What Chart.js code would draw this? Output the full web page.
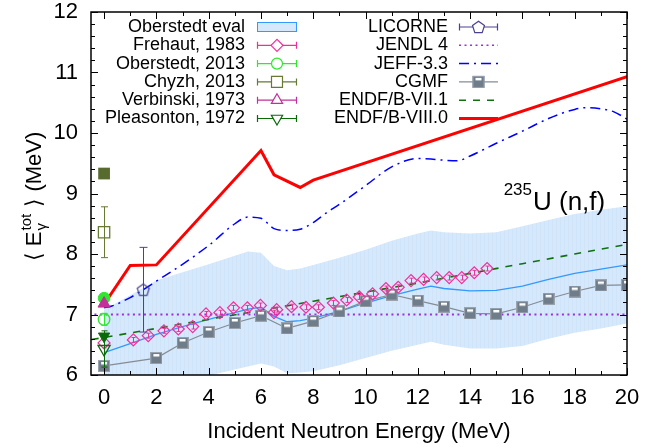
<!DOCTYPE html>
<html>
<head>
<meta charset="utf-8">
<script src="https://cdn.jsdelivr.net/npm/chart.js@4/dist/chart.umd.min.js"></script>
<style>
html,body{margin:0;padding:0;background:#ffffff;}
canvas{display:block;}
</style>
</head>
<body>
<canvas id="chart" width="667" height="447" style="width:667px;height:447px"></canvas>
<script>
// ---- tick labels ----
const xTicks = [0, 2, 4, 6, 8, 10, 12, 14, 16, 18, 20];
const yTicks = [6, 7, 8, 9, 10, 11, 12];

// ---- Oberstedt evaluation: central value and uncertainty band (MeV) ----
const evalE    = [0, 1, 2, 3, 4, 5, 5.5, 6, 6.5, 7, 7.5, 8, 9, 10, 11, 12, 12.5, 13, 14, 15, 16, 17, 18, 19, 20];
const evalMean = [6.37, 6.52, 6.67, 6.80, 6.92, 7.03, 7.09, 7.12, 6.97, 6.88, 6.90, 6.94, 7.05, 7.19, 7.31, 7.42, 7.47, 7.43, 7.39, 7.40, 7.47, 7.58, 7.68, 7.75, 7.82];
const evalHigh = [7.08, 7.32, 7.56, 7.70, 7.83, 7.97, 8.04, 8.02, 7.80, 7.73, 7.76, 7.82, 7.94, 8.07, 8.22, 8.34, 8.39, 8.36, 8.34, 8.36, 8.46, 8.56, 8.66, 8.73, 8.79];
const evalLow  = [5.66, 5.72, 5.78, 5.88, 5.99, 6.09, 6.14, 6.19, 6.14, 6.03, 6.04, 6.06, 6.16, 6.28, 6.40, 6.50, 6.55, 6.50, 6.44, 6.44, 6.48, 6.60, 6.70, 6.77, 6.85];

// ---- Frehaut, 1983 ----
const frehautE   = [0, 1.12, 1.69, 2.29, 2.84, 3.39, 3.90, 4.43, 4.95, 5.48, 5.98, 6.50, 6.60, 7.17, 7.72, 8.20, 8.77, 9.28, 9.76, 10.27, 10.78, 11.25, 11.74, 12.22, 12.72, 13.20, 13.68, 14.16, 14.65];
const frehautG   = [6.53, 6.58, 6.65, 6.73, 6.76, 6.80, 7.01, 7.03, 7.11, 7.11, 7.15, 7.03, 7.08, 7.13, 7.12, 7.12, 7.19, 7.24, 7.29, 7.34, 7.43, 7.45, 7.56, 7.58, 7.61, 7.61, 7.61, 7.69, 7.76];
const frehautErr = [0.08, 0.04, 0.04, 0.04, 0.04, 0.04, 0.04, 0.04, 0.04, 0.04, 0.04, 0.04, 0.04, 0.04, 0.04, 0.04, 0.04, 0.04, 0.04, 0.04, 0.04, 0.04, 0.04, 0.04, 0.04, 0.04, 0.04, 0.04, 0.04];

// ---- thermal / single-energy measurements ----
const oberstedt2013E = [0];
const oberstedt2013G = [6.92];
const oberstedt2013Err = [0.1];
const oberstedtAltE = [0];
const oberstedtAltG = [7.27];

const chyzhE = [0];
const chyzhG = [8.36];
const chyzhErr = [0.42];
const chyzhAltE = [0];
const chyzhAltG = [9.33];

const verbinskiE = [0];
const verbinskiG = [7.18];
const verbinskiErr = [0.04];

const pleasontonE = [0];
const pleasontonG = [6.43];
const pleasontonErr = [0.3];
const pleasontonAltE = [0];
const pleasontonAltG = [6.64];

const licorneE = [1.5];
const licorneG = [7.41];
const licorneErr = [0.70];

// ---- evaluations and model ----
const jendlE = [-1, 20];
const jendlG = [7.0, 7.0];

const jeffE = [0, 0.3, 1, 1.5, 2, 3, 4, 5, 5.5, 6, 6.5, 7, 7.5, 8, 8.5, 9, 10, 11, 12, 12.5, 13, 13.5, 14, 15, 16, 17, 18, 18.5, 19, 19.5, 20];
const jeffG = [7.11, 7.14, 7.28, 7.41, 7.55, 7.83, 8.14, 8.50, 8.61, 8.59, 8.42, 8.39, 8.41, 8.52, 8.68, 8.82, 9.13, 9.44, 9.58, 9.57, 9.55, 9.54, 9.62, 9.83, 10.03, 10.24, 10.39, 10.42, 10.40, 10.35, 10.23];

const cgmfE = [0, 2, 3, 4, 5, 6, 7, 8, 9, 10, 11, 12, 13, 14, 15, 16, 17, 18, 19, 20];
const cgmfG = [6.15, 6.28, 6.53, 6.71, 6.86, 6.98, 6.77, 6.89, 7.05, 7.22, 7.33, 7.23, 7.13, 7.02, 7.01, 7.12, 7.26, 7.38, 7.48, 7.49];

const endf71E = [-1, 0, 2, 4, 6, 8, 10, 12, 14, 16, 18, 20];
const endf71G = [6.55, 6.62, 6.77, 6.92, 7.07, 7.22, 7.37, 7.52, 7.68, 7.84, 8.00, 8.16];

const endf80E = [0, 1, 2, 6, 6.5, 7.5, 8, 20];
const endf80G = [7.17, 7.81, 7.82, 9.71, 9.31, 9.10, 9.22, 10.93];

// ---- legend labels ----
const legendLeft  = ['Oberstedt eval', 'Frehaut, 1983', 'Oberstedt, 2013', 'Chyzh, 2013', 'Verbinski, 1973', 'Pleasonton, 1972'];
const legendRight = ['LICORNE', 'JENDL 4', 'JEFF-3.3', 'CGMF', 'ENDF/B-VII.1', 'ENDF/B-VIII.0'];

// ---- colours ----
const C = {
  band: '#d6e9fc', bandStripe: '#cfe3f9', bandEdge: '#3399ff', evalLine: '#3399ff',
  frehaut: '#f0309a', oberstedt: '#2ee82e', chyzh: '#667a33', chyzhFill: '#566b2d',
  verbinski: '#c4309a', pleasonton: '#0a6a0a', licorne: '#4a4290',
  jendl: '#9b30e0', jeff: '#0000ff', cgmf: '#6f7c89', cgmfLine: '#858c94',
  endf71: '#107010', endf80: '#ff0000'
};
const FONT = "'Liberation Sans', Arial, Helvetica, sans-serif";

const pts = (xs, ys) => xs.map((x, i) => ({ x: x, y: ys[i] }));

// faint vertical hatching used for the uncertainty band
function bandPattern() {
  const c = document.createElement('canvas');
  c.width = 4; c.height = 4;
  const g = c.getContext('2d');
  g.fillStyle = C.band; g.fillRect(0, 0, 4, 4);
  g.fillStyle = C.bandStripe; g.fillRect(0, 0, 1, 4);
  return g.createPattern(c, 'repeat');
}

// custom marker images
function pentagonPath(g, cx, cy, r) {
  g.beginPath();
  for (let k = 0; k < 5; k++) {
    const a = -Math.PI / 2 + k * 2 * Math.PI / 5;
    const px = cx + r * Math.cos(a), py = cy + r * Math.sin(a);
    if (k === 0) g.moveTo(px, py); else g.lineTo(px, py);
  }
  g.closePath();
}
function makePentagon() {
  const c = document.createElement('canvas');
  c.width = 16; c.height = 16;
  const g = c.getContext('2d');
  g.strokeStyle = C.licorne; g.lineWidth = 1.2;
  pentagonPath(g, 8, 8.5, 6.3);
  g.stroke();
  return c;
}
function cgmfSquare(g, cx, cy) {
  g.fillStyle = C.cgmf;
  g.fillRect(cx - 6, cy - 6, 12, 12);
  g.strokeStyle = '#9aa3ad'; g.lineWidth = 1;
  g.strokeRect(cx - 5.5, cy - 5.5, 11, 11);
  g.fillStyle = '#ffffff';
  g.fillRect(cx - 3, cy - 4, 6, 2.5);
}
function makeCgmf() {
  const c = document.createElement('canvas');
  c.width = 12; c.height = 12;
  cgmfSquare(c.getContext('2d'), 6, 6);
  return c;
}
const pentagonImg = makePentagon();
const cgmfImg = makeCgmf();

// error bars, drawn beneath each dataset's markers
const errorBars = {
  id: 'errorBars',
  beforeDatasetDraw(chart, args) {
    const ds = chart.data.datasets[args.index];
    if (!ds.yErr) return;
    const ctx = chart.ctx, xs = chart.scales.x, ys = chart.scales.y;
    const cap = ds.capHalf || 3;
    ctx.save();
    ctx.strokeStyle = ds.errColor || ds.borderColor;
    ctx.lineWidth = 1;
    ctx.beginPath();
    ds.data.forEach((p, i) => {
      const e = ds.yErr[i];
      if (!e) return;
      const px = Math.round(xs.getPixelForValue(p.x)) + 0.5;
      const y1 = ys.getPixelForValue(p.y - e), y2 = ys.getPixelForValue(p.y + e);
      ctx.moveTo(px, y1); ctx.lineTo(px, y2);
      ctx.moveTo(px - cap, y1); ctx.lineTo(px + cap, y1);
      ctx.moveTo(px - cap, y2); ctx.lineTo(px + cap, y2);
    });
    ctx.stroke();
    ctx.restore();
  }
};

// frame with inward ticks on all four sides
const frame = {
  id: 'frame',
  afterDatasetsDraw(chart) {
    const { ctx, chartArea: a, scales: { x, y } } = chart;
    ctx.save();
    ctx.strokeStyle = '#000';
    ctx.lineWidth = 1;
    ctx.beginPath();
    for (let v = 0; v <= 20; v += 1) {
      const px = Math.round(x.getPixelForValue(v)) + 0.5;
      const len = (v % 2 === 0) ? 7 : 4;
      ctx.moveTo(px, a.bottom); ctx.lineTo(px, a.bottom - len);
      ctx.moveTo(px, a.top); ctx.lineTo(px, a.top + len);
    }
    for (let k = 0; k <= 30; k++) {
      const py = Math.round(y.getPixelForValue(6 + k * 0.2)) + 0.5;
      const len = (k % 5 === 0) ? 7 : 4;
      ctx.moveTo(a.left, py); ctx.lineTo(a.left + len, py);
      ctx.moveTo(a.right, py); ctx.lineTo(a.right - len, py);
    }
    ctx.stroke();
    ctx.lineWidth = 1.5;
    ctx.strokeRect(a.left, a.top, a.right - a.left, a.bottom - a.top);
    ctx.restore();
  }
};

function shape(ctx, kind, x, y, r, stroke, fill, lw) {
  ctx.save();
  ctx.strokeStyle = stroke; ctx.lineWidth = lw || 1.2;
  ctx.beginPath();
  if (kind === 'diamond') {
    ctx.moveTo(x - r, y); ctx.lineTo(x, y - r); ctx.lineTo(x + r, y); ctx.lineTo(x, y + r); ctx.closePath();
  } else if (kind === 'circle') {
    ctx.arc(x, y, r, 0, Math.PI * 2);
  } else if (kind === 'square') {
    ctx.rect(x - r, y - r, 2 * r, 2 * r);
  } else if (kind === 'tri') {
    ctx.moveTo(x, y - r); ctx.lineTo(x + r * 0.866, y + r / 2); ctx.lineTo(x - r * 0.866, y + r / 2); ctx.closePath();
  } else if (kind === 'dtri') {
    ctx.moveTo(x, y + r); ctx.lineTo(x + r * 0.866, y - r / 2); ctx.lineTo(x - r * 0.866, y - r / 2); ctx.closePath();
  } else if (kind === 'pent') {
    pentagonPath(ctx, x, y + 0.5, r);
  }
  ctx.fillStyle = fill; ctx.fill();
  ctx.stroke();
  ctx.restore();
}

function errSample(ctx, x0, x1, y, color, kind, r) {
  ctx.save();
  ctx.strokeStyle = color; ctx.lineWidth = 1.2;
  ctx.beginPath();
  ctx.moveTo(x0, y); ctx.lineTo(x1, y);
  ctx.moveTo(x0 + 0.5, y - 3.5); ctx.lineTo(x0 + 0.5, y + 3.5);
  ctx.moveTo(x1 - 0.5, y - 3.5); ctx.lineTo(x1 - 0.5, y + 3.5);
  ctx.stroke();
  ctx.restore();
  shape(ctx, kind, (x0 + x1) / 2, y, r, color, '#ffffff');
}
function lineSample(ctx, x0, x1, y, color, width, dash) {
  ctx.save();
  ctx.strokeStyle = color; ctx.lineWidth = width;
  ctx.setLineDash(dash || []);
  ctx.beginPath(); ctx.moveTo(x0, y); ctx.lineTo(x1, y); ctx.stroke();
  ctx.restore();
}

// key, axis titles and reaction label
const texts = {
  id: 'texts',
  afterDraw(chart) {
    const { ctx, chartArea: a } = chart;
    ctx.save();
    ctx.fillStyle = '#000';
    ctx.font = '18px ' + FONT;
    ctx.textAlign = 'right';
    ctx.textBaseline = 'middle';
    const row0 = 27, step = 18.3;
    const lx0 = 257, lx1 = 297, rx0 = 459, rx1 = 498;
    legendLeft.forEach((t, i) => ctx.fillText(t, 245, row0 + i * step));
    legendRight.forEach((t, i) => ctx.fillText(t, 448, row0 + i * step));

    // left column samples
    const yy = row0;
    ctx.fillStyle = C.band; ctx.fillRect(lx0, yy - 5, lx1 - lx0, 10);
    ctx.strokeStyle = C.bandEdge; ctx.lineWidth = 1; ctx.strokeRect(lx0 + 0.5, yy - 4.5, lx1 - lx0 - 1, 9);
    errSample(ctx, lx0, lx1, row0 + step, C.frehaut, 'diamond', 6);
    errSample(ctx, lx0, lx1, row0 + 2 * step, C.oberstedt, 'circle', 5.5);
    errSample(ctx, lx0, lx1, row0 + 3 * step, C.chyzh, 'square', 5.5);
    errSample(ctx, lx0, lx1, row0 + 4 * step, C.verbinski, 'tri', 6.5);
    errSample(ctx, lx0, lx1, row0 + 5 * step, C.pleasonton, 'dtri', 6.5);

    // right column samples
    errSample(ctx, rx0, rx1, row0, C.licorne, 'pent', 6.3);
    lineSample(ctx, rx0, rx1, row0 + step, C.jendl, 1.6, [2, 3.5]);
    lineSample(ctx, rx0, rx1, row0 + 2 * step, C.jeff, 1.5, [10, 5, 2, 5]);
    lineSample(ctx, rx0, rx1, row0 + 3 * step, C.cgmfLine, 1.2);
    cgmfSquare(ctx, (rx0 + rx1) / 2, row0 + 3 * step);
    lineSample(ctx, rx0, rx1, row0 + 4 * step, C.endf71, 1.5, [7, 7]);
    lineSample(ctx, rx0, rx1, row0 + 5 * step, C.endf80, 3);

    // x-axis title
    ctx.fillStyle = '#000';
    ctx.textAlign = 'center';
    ctx.font = '22px ' + FONT;
    ctx.fillText('Incident Neutron Energy (MeV)', (a.left + a.right) / 2, 432);

    // y-axis title:  < E_gamma^tot > (MeV)
    ctx.save();
    ctx.translate(33, 197);
    ctx.rotate(-Math.PI / 2);
    const big = '22px ' + FONT, small = '15px ' + FONT;
    const p1 = '\u27E8 E', p3 = ' \u27E9 (MeV)';
    ctx.font = big; const w1 = ctx.measureText(p1).width, w3 = ctx.measureText(p3).width;
    ctx.font = small; const wsup = ctx.measureText('tot').width, wsub = ctx.measureText('\u03B3').width;
    const w2 = Math.max(wsup, wsub) + 1;
    let cx = -(w1 + w2 + w3) / 2;
    ctx.textAlign = 'left';
    ctx.textBaseline = 'alphabetic';
    ctx.font = big; ctx.fillText(p1, cx, 8); cx += w1 + 1;
    ctx.font = small; ctx.fillText('tot', cx, -2); ctx.fillText('\u03B3', cx, 13);
    cx += w2;
    ctx.font = big; ctx.fillText(p3, cx, 8);
    ctx.restore();

    // reaction label
    ctx.textAlign = 'right';
    ctx.textBaseline = 'alphabetic';
    ctx.font = '17px ' + FONT;
    ctx.fillText('235', 532, 195);
    ctx.textAlign = 'left';
    ctx.font = '26px ' + FONT;
    ctx.fillText('U (n,f)', 533, 210);
    ctx.restore();
  }
};

const noPts = { pointRadius: 0, pointHoverRadius: 0 };

const datasets = [
  // uncertainty band
  { label: 'Oberstedt eval high', data: pts(evalE, evalHigh), showLine: true, borderWidth: 0, borderColor: 'rgba(0,0,0,0)',
    backgroundColor: bandPattern(), fill: '+1', order: 100, ...noPts },
  { label: 'Oberstedt eval low', data: pts(evalE, evalLow), showLine: true, borderWidth: 0, borderColor: 'rgba(0,0,0,0)',
    fill: false, order: 99, ...noPts },
  { label: 'Oberstedt eval', data: pts(evalE, evalMean), showLine: true, borderColor: C.evalLine, borderWidth: 1.3,
    fill: false, order: 60, ...noPts },
  // evaluations
  { label: 'JENDL 4', data: pts(jendlE, jendlG), showLine: true, borderColor: C.jendl, borderWidth: 2,
    borderDash: [2, 3.5], fill: false, order: 55, ...noPts },
  { label: 'ENDF/B-VII.1', data: pts(endf71E, endf71G), showLine: true, borderColor: C.endf71, borderWidth: 1.6,
    borderDash: [7, 7], fill: false, order: 54, ...noPts },
  { label: 'JEFF-3.3', data: pts(jeffE, jeffG), showLine: true, borderColor: C.jeff, borderWidth: 1.5,
    borderDash: [10, 5, 2, 5], cubicInterpolationMode: 'monotone', fill: false, order: 53, ...noPts },
  { label: 'ENDF/B-VIII.0', data: pts(endf80E, endf80G), showLine: true, borderColor: C.endf80, borderWidth: 3,
    fill: false, order: 52, ...noPts },
  // CGMF model
  { label: 'CGMF', data: pts(cgmfE, cgmfG), showLine: true, borderColor: C.cgmfLine, borderWidth: 1.2,
    pointStyle: cgmfImg, pointRadius: 6, fill: false, order: 30 },
  // measurements
  { label: 'Frehaut, 1983', data: pts(frehautE, frehautG), yErr: frehautErr, capHalf: 2, showLine: false,
    borderColor: C.frehaut, backgroundColor: 'rgba(0,0,0,0)', pointStyle: 'rectRot', pointRadius: 6, pointBorderWidth: 1.2, order: 20 },
  { label: 'Chyzh, 2013', data: pts(chyzhE, chyzhG), yErr: chyzhErr, capHalf: 3.5, showLine: false,
    borderColor: C.chyzh, backgroundColor: 'rgba(0,0,0,0)', pointStyle: 'rect', pointRadius: 8, pointBorderWidth: 1.3, order: 20 },
  { label: 'Chyzh, 2013 (alt)', data: pts(chyzhAltE, chyzhAltG), showLine: false,
    borderColor: C.chyzhFill, backgroundColor: C.chyzhFill, pointStyle: 'rect', pointRadius: 8.3, pointBorderWidth: 0, order: 20 },
  { label: 'Oberstedt, 2013', data: pts(oberstedt2013E, oberstedt2013G), yErr: oberstedt2013Err, capHalf: 3, showLine: false,
    borderColor: C.oberstedt, backgroundColor: 'rgba(0,0,0,0)', pointStyle: 'circle', pointRadius: 5.8, pointBorderWidth: 1.3, order: 19 },
  { label: 'Oberstedt, 2013 (alt)', data: pts(oberstedtAltE, oberstedtAltG), showLine: false,
    borderColor: C.oberstedt, backgroundColor: C.oberstedt, pointStyle: 'circle', pointRadius: 5.8, pointBorderWidth: 1, order: 19 },
  { label: 'Pleasonton, 1972', data: pts(pleasontonE, pleasontonG), yErr: pleasontonErr, capHalf: 3, showLine: false,
    borderColor: C.pleasonton, backgroundColor: 'rgba(0,0,0,0)', pointStyle: 'triangle', rotation: 180, pointRadius: 7, pointBorderWidth: 1.3, order: 18 },
  { label: 'Pleasonton, 1972 (alt)', data: pts(pleasontonAltE, pleasontonAltG), showLine: false,
    borderColor: C.pleasonton, backgroundColor: C.pleasonton, pointStyle: 'triangle', rotation: 180, pointRadius: 6.5, pointBorderWidth: 1, order: 18 },
  { label: 'Verbinski, 1973', data: pts(verbinskiE, verbinskiG), yErr: verbinskiErr, capHalf: 3, showLine: false,
    borderColor: C.verbinski, backgroundColor: C.verbinski, pointStyle: 'triangle', pointRadius: 7, pointBorderWidth: 1, order: 17 },
  { label: 'LICORNE', data: pts(licorneE, licorneG), yErr: licorneErr, capHalf: 4, showLine: false,
    borderColor: C.licorne, pointStyle: pentagonImg, pointRadius: 7, order: 16 }
];

new Chart(document.getElementById('chart'), {
  type: 'scatter',
  data: { datasets: datasets },
  options: {
    responsive: false,
    animation: false,
    devicePixelRatio: 1,
    layout: { padding: { top: 12, right: 40, left: 0, bottom: 0 } },
    plugins: { legend: { display: false }, tooltip: { enabled: false } },
    scales: {
      x: {
        type: 'linear', min: -0.5, max: 20,
        afterBuildTicks: s => { s.ticks = xTicks.map(v => ({ value: v })); },
        afterFit: s => { s.height = 72; s.paddingLeft = 0; s.paddingRight = 0; },
        grid: { display: false, drawTicks: false },
        border: { display: false },
        ticks: { color: '#000', padding: 10, maxRotation: 0, font: { family: FONT, size: 22 } }
      },
      y: {
        type: 'linear', min: 6, max: 12,
        afterBuildTicks: s => { s.ticks = yTicks.map(v => ({ value: v })); },
        afterFit: s => { s.width = 91; s.paddingTop = 0; s.paddingBottom = 0; },
        grid: { display: false, drawTicks: false },
        border: { display: false },
        ticks: { color: '#000', padding: 13, font: { family: FONT, size: 22 } }
      }
    }
  },
  plugins: [errorBars, frame, texts]
});
</script>
</body>
</html>
